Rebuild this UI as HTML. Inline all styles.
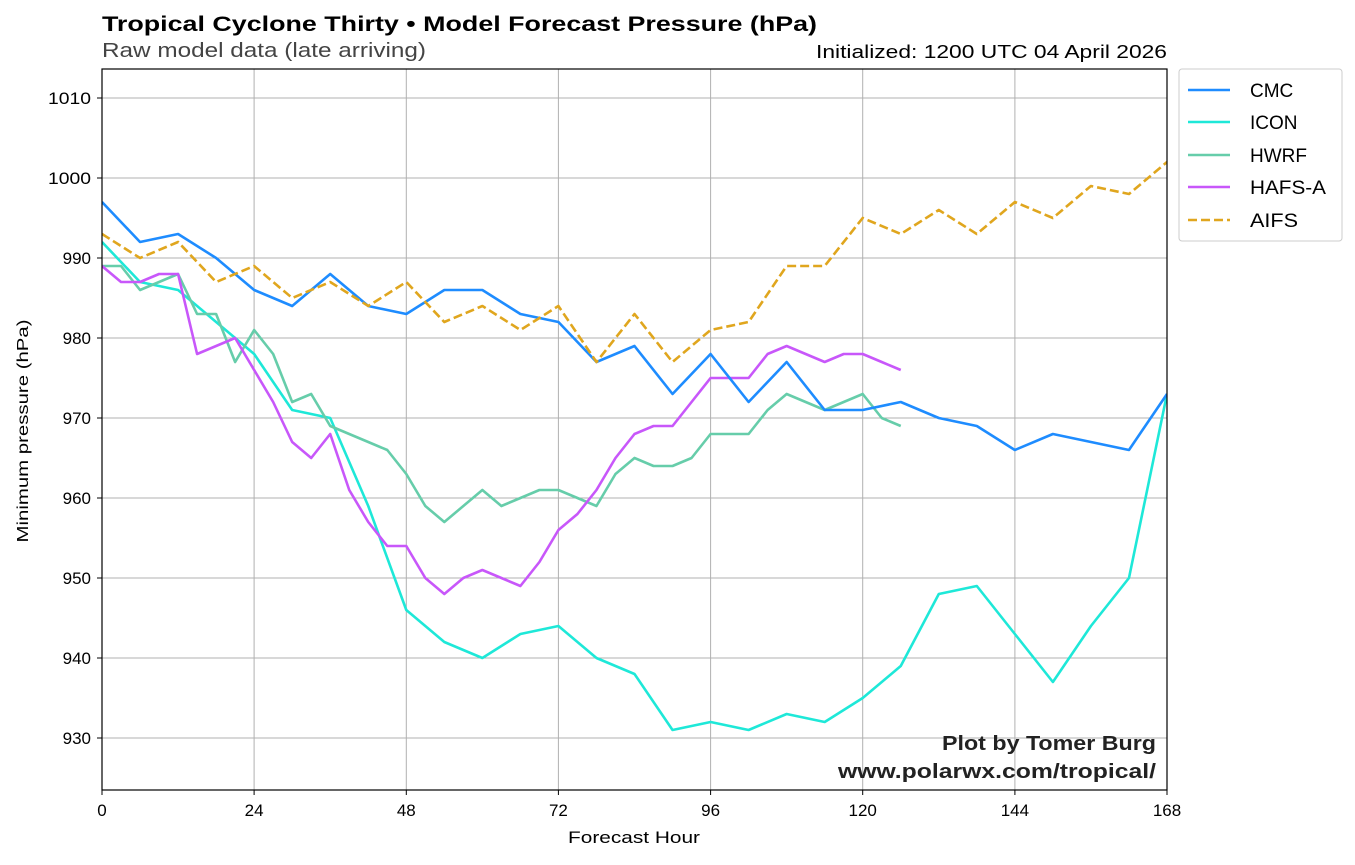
<!DOCTYPE html>
<html><head><meta charset="utf-8"><style>
body{margin:0;background:#fff;}
svg text{font-family:"Liberation Sans",sans-serif;}
</style></head><body>
<svg width="1355" height="860" xmlns="http://www.w3.org/2000/svg">
<rect width="1355" height="860" fill="#fff"/>
<g stroke="#b0b0b0" stroke-width="1">
<line x1="102" y1="69" x2="102" y2="790"/><line x1="254.1" y1="69" x2="254.1" y2="790"/><line x1="406.3" y1="69" x2="406.3" y2="790"/><line x1="558.4" y1="69" x2="558.4" y2="790"/><line x1="710.6" y1="69" x2="710.6" y2="790"/><line x1="862.7" y1="69" x2="862.7" y2="790"/><line x1="1014.9" y1="69" x2="1014.9" y2="790"/>
<line x1="102" y1="98" x2="1167" y2="98"/><line x1="102" y1="178" x2="1167" y2="178"/><line x1="102" y1="258" x2="1167" y2="258"/><line x1="102" y1="338" x2="1167" y2="338"/><line x1="102" y1="418" x2="1167" y2="418"/><line x1="102" y1="498" x2="1167" y2="498"/><line x1="102" y1="578" x2="1167" y2="578"/><line x1="102" y1="658" x2="1167" y2="658"/><line x1="102" y1="738" x2="1167" y2="738"/>
</g>
<defs><clipPath id="c"><rect x="102" y="69" width="1065" height="721"/></clipPath></defs>
<g clip-path="url(#c)" fill="none" stroke-width="2.6" stroke-linejoin="round">
<g transform="matrix(6.3393 0 0 -8 102 8178)">
<polyline vector-effect="non-scaling-stroke" stroke="#1ee8d8" stroke-width="2.6" points="0,992 6,987 12,986 24,978 30,971 36,970 42,959 48,946 54,942 60,940 66,943 72,944 78,940 84,938 90,931 96,932 102,931 108,933 114,932 120,935 126,939 132,948 138,949 144,943 150,937 156,944 162,950 168,973"/>
<polyline vector-effect="non-scaling-stroke" stroke="#66cdaa" stroke-width="2.6" points="0,989 3,989 6,986 9,987 12,988 15,983 18,983 21,977 24,981 27,978 30,972 33,973 36,969 39,968 42,967 45,966 48,963 51,959 54,957 57,959 60,961 63,959 66,960 69,961 72,961 75,960 78,959 81,963 84,965 87,964 90,964 93,965 96,968 99,968 102,968 105,971 108,973 111,972 114,971 117,972 120,973 123,970 126,969"/>
<polyline vector-effect="non-scaling-stroke" stroke="#c857fa" stroke-width="2.6" points="0,989 3,987 6,987 9,988 12,988 15,978 18,979 21,980 24,976 27,972 30,967 33,965 36,968 39,961 42,957 45,954 48,954 51,950 54,948 57,950 60,951 63,950 66,949 69,952 72,956 75,958 78,961 81,965 84,968 87,969 90,969 93,972 96,975 99,975 102,975 105,978 108,979 111,978 114,977 117,978 120,978 123,977 126,976"/>
<polyline vector-effect="non-scaling-stroke" stroke="#1e8cff" stroke-width="2.6" points="0,997 6,992 12,993 18,990 24,986 30,984 36,988 42,984 48,983 54,986 60,986 66,983 72,982 78,977 84,979 90,973 96,978 102,972 108,977 114,971 120,971 126,972 132,970 138,969 144,966 150,968 162,966 168,973"/>
</g>
<polyline stroke="#e0a61e" stroke-dasharray="9,4" points="102,234 140,258 178.1,242 216.1,282 254.1,266 292.2,298 330.2,282 368.3,306 406.3,282 444.3,322 482.4,306 520.4,330 558.4,306 596.5,362 634.5,314 672.5,362 710.6,330 748.6,322 786.6,266 824.7,266 862.7,218 900.8,234 938.8,210 976.8,234 1014.9,202 1052.9,218 1090.9,186 1129,194 1167,162"/>
</g>
<rect x="102" y="69" width="1065" height="721" fill="none" stroke="#000" stroke-width="1.2"/>
<g stroke="#000"><line x1="102" y1="790" x2="102" y2="795"/><line x1="254.1" y1="790" x2="254.1" y2="795"/><line x1="406.3" y1="790" x2="406.3" y2="795"/><line x1="558.4" y1="790" x2="558.4" y2="795"/><line x1="710.6" y1="790" x2="710.6" y2="795"/><line x1="862.7" y1="790" x2="862.7" y2="795"/><line x1="1014.9" y1="790" x2="1014.9" y2="795"/><line x1="1167" y1="790" x2="1167" y2="795"/>
<line x1="97" y1="98" x2="102" y2="98"/><line x1="97" y1="178" x2="102" y2="178"/><line x1="97" y1="258" x2="102" y2="258"/><line x1="97" y1="338" x2="102" y2="338"/><line x1="97" y1="418" x2="102" y2="418"/><line x1="97" y1="498" x2="102" y2="498"/><line x1="97" y1="578" x2="102" y2="578"/><line x1="97" y1="658" x2="102" y2="658"/><line x1="97" y1="738" x2="102" y2="738"/></g>
<g font-size="17" fill="#000" text-anchor="middle">
<text x="102" y="816">0</text><text x="254.1" y="816">24</text><text x="406.3" y="816">48</text><text x="558.4" y="816">72</text><text x="710.6" y="816">96</text><text x="862.7" y="816">120</text><text x="1014.9" y="816">144</text><text x="1167" y="816">168</text>
<text x="634" y="843" textLength="132" lengthAdjust="spacingAndGlyphs">Forecast Hour</text>
</g>
<g font-size="17" fill="#000" text-anchor="end">
<text x="91" y="104" textLength="43" lengthAdjust="spacingAndGlyphs">1010</text><text x="91" y="184" textLength="43" lengthAdjust="spacingAndGlyphs">1000</text><text x="91" y="264">990</text><text x="91" y="344">980</text><text x="91" y="424">970</text><text x="91" y="504">960</text><text x="91" y="584">950</text><text x="91" y="664">940</text><text x="91" y="744">930</text>
</g>
<text transform="translate(28,431) rotate(-90)" font-size="16" text-anchor="middle" textLength="223" lengthAdjust="spacingAndGlyphs">Minimum pressure (hPa)</text>
<text x="102" y="31" font-size="21" font-weight="bold" textLength="715" lengthAdjust="spacingAndGlyphs">Tropical Cyclone Thirty • Model Forecast Pressure (hPa)</text>
<text x="102" y="57" font-size="20" fill="#444" textLength="324" lengthAdjust="spacingAndGlyphs">Raw model data (late arriving)</text>
<text x="816" y="58" font-size="18" textLength="351" lengthAdjust="spacingAndGlyphs">Initialized: 1200 UTC 04 April 2026</text>
<text x="942" y="750" font-size="20" font-weight="bold" fill="#222" textLength="214" lengthAdjust="spacingAndGlyphs">Plot by Tomer Burg</text>
<text x="838" y="778" font-size="20" font-weight="bold" fill="#222" textLength="318" lengthAdjust="spacingAndGlyphs">www.polarwx.com/tropical/</text>
<rect x="1179" y="69" width="163" height="172" rx="3" fill="#fff" stroke="#ccc"/>
<g stroke-width="2.6"><line x1="1188" y1="90" x2="1230" y2="90" stroke="#1e8cff"/><line x1="1188" y1="122" x2="1230" y2="122" stroke="#1ee8d8"/><line x1="1188" y1="155" x2="1230" y2="155" stroke="#66cdaa"/><line x1="1188" y1="187" x2="1230" y2="187" stroke="#c857fa"/><line x1="1188" y1="220" x2="1230" y2="220" stroke="#e0a61e" stroke-dasharray="9,4"/></g>
<g font-size="19"><text x="1250" y="97">CMC</text><text x="1250" y="129">ICON</text><text x="1250" y="162">HWRF</text><text x="1250" y="194" textLength="76" lengthAdjust="spacingAndGlyphs">HAFS-A</text><text x="1250" y="227" textLength="48" lengthAdjust="spacingAndGlyphs">AIFS</text></g>
</svg>
</body></html>
